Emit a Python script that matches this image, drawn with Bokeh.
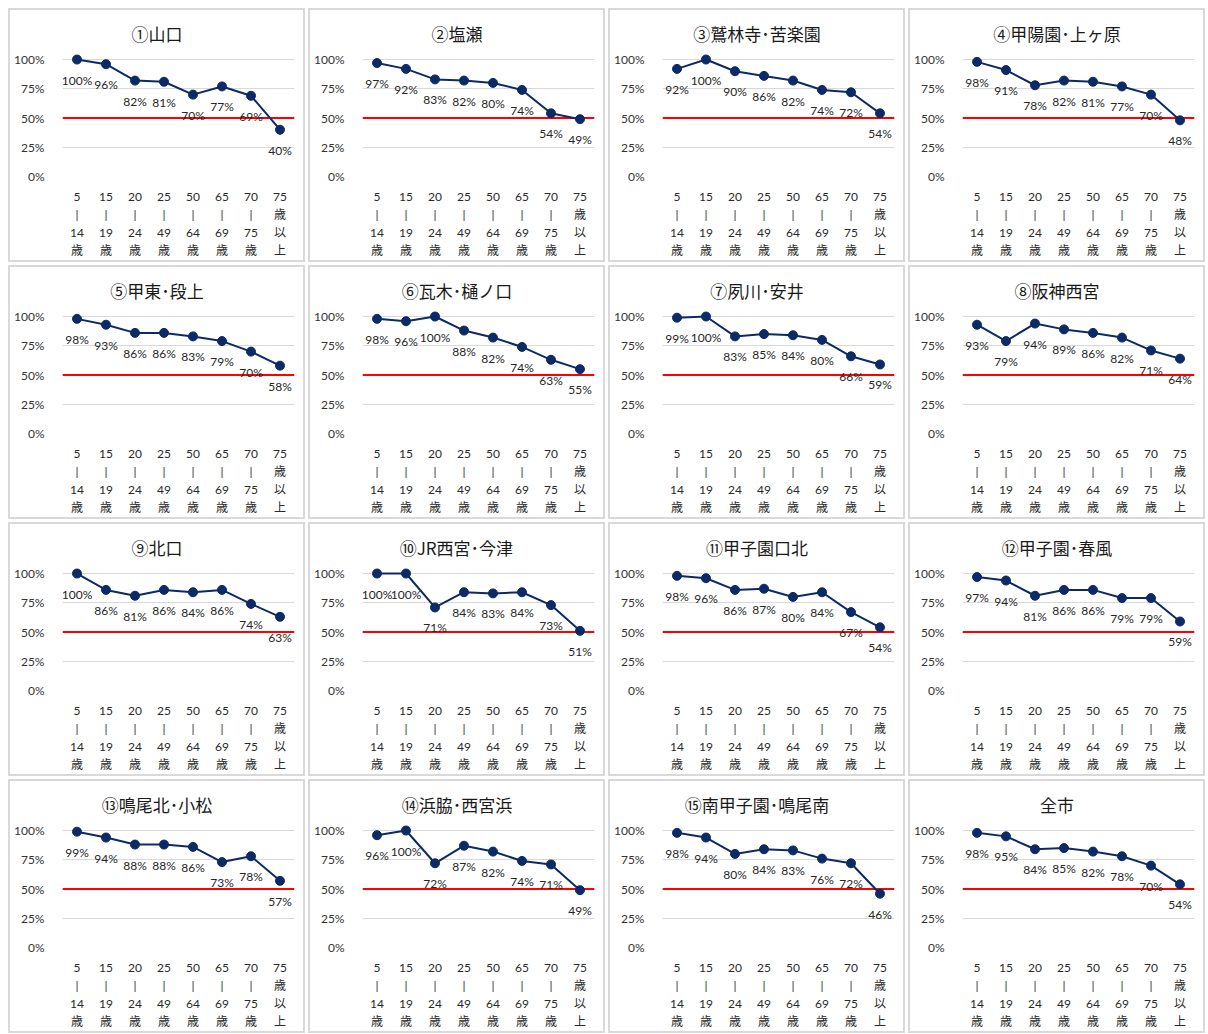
from bokeh.plotting import figure
from bokeh.layouts import column, row
from bokeh.models import Range1d, FactorRange, FixedTicker, NumeralTickFormatter, Span, ColumnDataSource
from bokeh.embed import file_html
from bokeh.resources import INLINE
from bokeh.core.properties import value

categories = ["5\n|\n14\n歳", "15\n|\n19\n歳", "20\n|\n24\n歳", "25\n|\n49\n歳",
              "50\n|\n64\n歳", "65\n|\n69\n歳", "70\n|\n75\n歳", "75\n歳\n以\n上"]

titles = ["①山口", "②塩瀬", "③鷲林寺･苦楽園", "④甲陽園･上ヶ原",
          "⑤甲東･段上", "⑥瓦木･樋ノ口", "⑦夙川･安井", "⑧阪神西宮",
          "⑨北口", "⑩JR西宮･今津", "⑪甲子園口北", "⑫甲子園･春風",
          "⑬鳴尾北･小松", "⑭浜脇･西宮浜", "⑮南甲子園･鳴尾南", "全市"]

v01 = [100, 96, 82, 81, 70, 77, 69, 40]
v02 = [97, 92, 83, 82, 80, 74, 54, 49]
v03 = [92, 100, 90, 86, 82, 74, 72, 54]
v04 = [98, 91, 78, 82, 81, 77, 70, 48]
v05 = [98, 93, 86, 86, 83, 79, 70, 58]
v06 = [98, 96, 100, 88, 82, 74, 63, 55]
v07 = [99, 100, 83, 85, 84, 80, 66, 59]
v08 = [93, 79, 94, 89, 86, 82, 71, 64]
v09 = [100, 86, 81, 86, 84, 86, 74, 63]
v10 = [100, 100, 71, 84, 83, 84, 73, 51]
v11 = [98, 96, 86, 87, 80, 84, 67, 54]
v12 = [97, 94, 81, 86, 86, 79, 79, 59]
v13 = [99, 94, 88, 88, 86, 73, 78, 57]
v14 = [96, 100, 72, 87, 82, 74, 71, 49]
v15 = [98, 94, 80, 84, 83, 76, 72, 46]
v16 = [98, 95, 84, 85, 82, 78, 70, 54]

series = [v01, v02, v03, v04, v05, v06, v07, v08,
          v09, v10, v11, v12, v13, v14, v15, v16]

y_ticks = [0, 0.25, 0.5, 0.75, 1.0]
threshold = 0.5

NAVY = "#0b2a66"
FONT = "Lato, 'Noto Sans CJK JP'"
CJK = "'Noto Sans CJK JP'"

W, H = 297, 254
BORDER = 2
ML, MR, MT, MB = 52, 13, 42, 88
TITLE_PX = 17

def est_width(s, px):
    w = 0.0
    for ch in s:
        if ch == "･":
            w += 0.5
        elif ord(ch) < 128:
            w += 0.62
        else:
            w += 1.0
    return w * px

def make_panel(title, vals):
    p = figure(width=W, height=H, x_range=FactorRange(*categories, range_padding=0),
               y_range=Range1d(0, 1.06), output_backend="svg", toolbar_location=None,
               min_border_left=ML, min_border_right=MR, min_border_top=MT, min_border_bottom=MB,
               styles={"border": f"{BORDER}px solid #d9d9d9"})
    # title centred on the whole panel (left-aligned title shifted by half its width)
    p.title.text = title
    p.title.align = "left"
    p.title.offset = (W - 2 * BORDER) / 2 - ML - est_width(title, TITLE_PX) / 2
    p.title.standoff = 14
    p.title.text_font = CJK
    p.title.text_font_size = f"{TITLE_PX}px"
    p.title.text_font_style = "normal"
    p.title.text_color = "#1a1a1a"
    p.outline_line_color = None
    p.background_fill_color = "white"
    p.border_fill_color = "white"

    p.xgrid.grid_line_color = None
    p.ygrid.ticker = FixedTicker(ticks=y_ticks)
    p.ygrid.grid_line_color = "#d9d9d9"
    p.ygrid.grid_line_width = 1

    p.yaxis.ticker = FixedTicker(ticks=y_ticks)
    p.yaxis.formatter = NumeralTickFormatter(format="0%")
    p.yaxis.axis_line_color = None
    p.yaxis.major_tick_line_color = None
    p.yaxis.minor_tick_line_color = None
    p.yaxis.major_label_text_font = FONT
    p.yaxis.major_label_text_font_size = "12px"
    p.yaxis.major_label_text_color = "#333333"
    p.yaxis.major_label_standoff = 12

    p.xaxis.axis_line_color = None
    p.xaxis.major_tick_line_color = None
    p.xaxis.minor_tick_line_color = None
    p.xaxis.major_label_text_font = FONT
    p.xaxis.major_label_text_font_size = "12px"
    p.xaxis.major_label_text_color = "#2a2a2a"
    p.xaxis.major_label_text_line_height = 1.22
    p.xaxis.major_label_standoff = 6

    p.add_layout(Span(location=threshold, dimension="width", line_color="#ff0000",
                      line_width=2, level="underlay"))

    src = ColumnDataSource(dict(x=categories, y=[v / 100 for v in vals],
                                lbl=[f"{v}%" for v in vals]))
    p.line("x", "y", source=src, line_color=NAVY, line_width=2)
    p.scatter("x", "y", source=src, size=9, fill_color=NAVY, line_color=NAVY)
    p.text("x", "y", text="lbl", source=src, text_align="center", text_baseline="top",
           y_offset=13, text_font=value("Lato"), text_font_size="12px", text_color="#262626")
    return p

panels = [make_panel(t, s) for t, s in zip(titles, series)]
rows = [row(*panels[i * 4:(i + 1) * 4], spacing=3) for i in range(4)]
layout = column(*rows, spacing=3, styles={"margin-left": "8px", "margin-top": "8px"})

open("out.html", "w").write(file_html(layout, INLINE))
